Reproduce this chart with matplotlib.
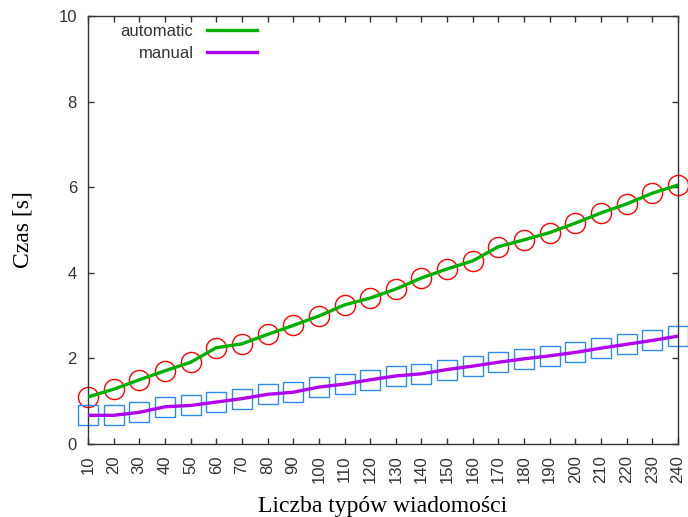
import matplotlib
matplotlib.use("Agg")
import matplotlib.pyplot as plt

# message type counts
types = [10, 20, 30, 40, 50, 60, 70, 80, 90, 100, 110, 120,
         130, 140, 150, 160, 170, 180, 190, 200, 210, 220, 230, 240]

# time [s]
automatic = [1.10, 1.28, 1.50, 1.71, 1.91, 2.25, 2.34, 2.56, 2.77, 2.99, 3.25, 3.41,
             3.62, 3.88, 4.09, 4.28, 4.61, 4.77, 4.94, 5.16, 5.40, 5.61, 5.86, 6.05]
manual = [0.67, 0.67, 0.74, 0.87, 0.90, 0.98, 1.06, 1.16, 1.21, 1.33, 1.40, 1.50,
          1.59, 1.64, 1.74, 1.82, 1.91, 1.99, 2.06, 2.14, 2.24, 2.33, 2.42, 2.52]

sans = "Liberation Sans"
serif = "Liberation Serif"

fig = plt.figure(figsize=(6.88, 5.17), dpi=100)
ax = fig.add_axes([88 / 688, 1 - 444 / 517, 590 / 688, 428 / 517])

# markers (no legend entry)
ax.plot(types, automatic, linestyle="none", marker="o", markersize=14.5,
        markerfacecolor="none", markeredgecolor="#ff0000", markeredgewidth=1.0,
        clip_on=False, zorder=2)
ax.plot(types, manual, linestyle="none", marker="s", markersize=14.5,
        markerfacecolor="none", markeredgecolor="#2a8cf0", markeredgewidth=1.0,
        clip_on=False, zorder=2)

# lines
ax.plot(types, automatic, color="#00b000", linewidth=2.4, label="automatic",
        zorder=3)
ax.plot(types, manual, color="#b000ee", linewidth=2.4, label="manual", zorder=3)

ax.set_xlim(10, 240)
ax.set_ylim(0, 10)
ax.set_xticks(types)
ax.set_yticks([0, 2, 4, 6, 8, 10])
ax.set_xticklabels([str(t) for t in types], rotation=90, va="top",
                   fontname=sans, fontsize=12, color="#333333")
ax.set_yticklabels(["0", "2", "4", "6", "8", "10"],
                   fontname=sans, fontsize=12, color="#333333")
ax.tick_params(direction="in", length=4.5, width=1, top=True, right=True,
               color="#333333", pad=8)

for s in ax.spines.values():
    s.set_color("#333333")
    s.set_linewidth(1.0)

ax.set_xlabel("Liczba typów wiadomości", fontname=serif, fontsize=17, labelpad=9)
ax.set_ylabel("Czas [s]", fontname=serif, fontsize=17, labelpad=18)

leg = ax.legend(loc="upper left", bbox_to_anchor=(0.03, 1.016), frameon=False,
                markerfirst=False, handlelength=3.0, handletextpad=0.8,
                labelspacing=0.4, prop={"family": sans, "size": 12})
for t in leg.get_texts():
    t.set_ha("right")
    t.set_color("#333333")

fig.savefig("out.png", dpi=100)
